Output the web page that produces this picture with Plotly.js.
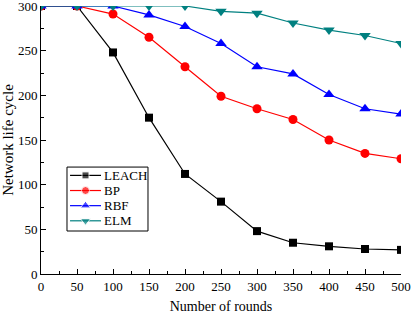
<!DOCTYPE html>
<html>
<head>
<meta charset="utf-8">
<script src="https://cdn.plot.ly/plotly-3.0.1.min.js"></script>
<style>
  html, body { margin: 0; padding: 0; background: #fff; }
  #chart { width: 412px; height: 322px; }
</style>
</head>
<body>
<div id="chart"></div>
<script>
// Network life cycle versus number of rounds for four clustering schemes
const rounds = [0, 50, 100, 150, 200, 250, 300, 350, 400, 450, 500];
const leach = [300, 300, 248, 175, 112, 81, 48, 35, 31, 28, 27];
const bp    = [300, 300, 291, 265, 232, 199, 185, 173, 150, 135, 129];
const rbf   = [300, 300, 300, 290, 277, 258, 232, 224, 201, 185, 179];
const elm   = [300, 300, 300, 300, 300, 294, 292, 281, 273, 267, 258];
const seriesNames = ['LEACH', 'BP', 'RBF', 'ELM'];
const xTicks = [0, 50, 100, 150, 200, 250, 300, 350, 400, 450, 500];
const yTicks = [0, 50, 100, 150, 200, 250, 300];

const serif = 'Liberation Serif, Times New Roman, serif';
const styles = [
  { color: '#000000', symbol: 'square', size: 8 },
  { color: '#ff0000', symbol: 'circle', size: 9 },
  { color: '#0000ff', symbol: 'triangle-up', size: 10 },
  { color: '#008080', symbol: 'triangle-down', size: 10 }
];
const values = [leach, bp, rbf, elm];

const traces = values.map((y, i) => ({
  x: rounds, y: y, name: seriesNames[i], type: 'scatter', mode: 'lines+markers',
  line: { color: styles[i].color, width: 1.2 },
  marker: { color: styles[i].color, symbol: styles[i].symbol, size: styles[i].size },
  cliponaxis: true, hoverinfo: 'skip'
}));

// Compact boxed key, drawn on a hidden unit axis laid over the plot area
const keyLeft = 0.0722, keyRight = 0.2972, keyTop = 0.399, keyBottom = 0.1604;
const keyX0 = 0.0806, keyX1 = 0.1667, keyTextX = 0.17;
const keyRowTop = 0.368, keyRowStep = 0.0565;
seriesNames.forEach((name, i) => {
  const ky = keyRowTop - i * keyRowStep;
  traces.push({
    x: [keyX0, (keyX0 + keyX1) / 2, keyX1], y: [ky, ky, ky],
    xaxis: 'x2', yaxis: 'y2', type: 'scatter', mode: 'lines+markers',
    showlegend: false, hoverinfo: 'skip', cliponaxis: false,
    line: { color: styles[i].color, width: 1.2 },
    marker: { color: styles[i].color, symbol: styles[i].symbol, size: [0, styles[i].size - 1, 0] }
  });
});

const keyAnnotations = seriesNames.map((name, i) => ({
  xref: 'paper', yref: 'paper', x: keyTextX, y: keyRowTop - i * keyRowStep,
  xanchor: 'left', yanchor: 'middle', showarrow: false, text: name,
  font: { family: serif, size: 13, color: '#000' }
}));

const axisCommon = {
  showline: true, linecolor: '#000', linewidth: 1,
  showgrid: false, zeroline: false,
  ticks: 'inside', ticklen: 5, tickwidth: 1, tickcolor: '#000',
  tickfont: { family: serif, size: 13, color: '#000' },
  ticklabeloverflow: 'allow',
  minor: { ticks: 'inside', ticklen: 3, tickwidth: 1, tickcolor: '#000', dtick: 25, showgrid: false }
};

const layout = {
  width: 412, height: 322,
  margin: { l: 41, r: 11, t: 6, b: 48 },
  paper_bgcolor: '#fff', plot_bgcolor: 'rgba(0,0,0,0)',
  showlegend: false,
  xaxis: Object.assign({}, axisCommon, {
    range: [0, 500], tickvals: xTicks, ticktext: xTicks.map(String),
    title: { text: 'Number of rounds', font: { family: serif, size: 14, color: '#000' }, standoff: 8 }
  }),
  yaxis: Object.assign({}, axisCommon, {
    range: [0, 300], tickvals: yTicks, ticktext: yTicks.map(String),
    title: { text: 'Network life cycle', font: { family: serif, size: 15, color: '#000' }, standoff: 6 }
  }),
  xaxis2: { overlaying: 'x', anchor: 'y2', range: [0, 1], visible: false, fixedrange: true },
  yaxis2: { overlaying: 'y', anchor: 'x2', range: [0, 1], visible: false, fixedrange: true },
  shapes: [{
    type: 'rect', xref: 'paper', yref: 'paper', layer: 'below',
    x0: keyLeft, x1: keyRight, y0: keyBottom, y1: keyTop,
    line: { color: '#000', width: 1 }, fillcolor: '#fff'
  }],
  annotations: keyAnnotations
};

Plotly.newPlot('chart', traces, layout, { staticPlot: true, displayModeBar: false });
</script>
</body>
</html>
